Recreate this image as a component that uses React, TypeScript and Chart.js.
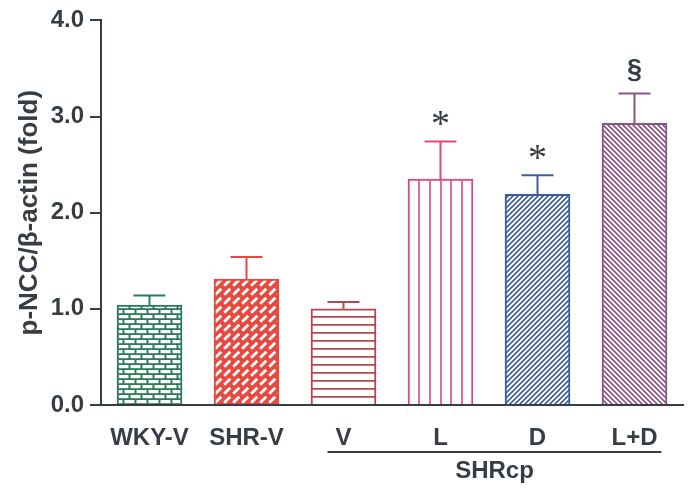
import { useEffect, useRef } from "react";
import { Chart, registerables } from "chart.js";

Chart.register(...registerables);

// Group labels, means and SEM (fold change of p-NCC/β-actin)
const groups = ["WKY-V", "SHR-V", "V", "L", "D", "L+D"];
const means = [1.04, 1.31, 1.0, 2.35, 2.19, 2.93];
const sems = [0.1, 0.23, 0.07, 0.39, 0.2, 0.31];
const signif = ["", "", "", "*", "*", "§"];
const yTicks = [0, 1, 2, 3, 4];
const yTitle = "p-NCC/β-actin (fold)";
const subgroupLabel = "SHRcp";
const subgroupFirst = 2;
const subgroupLast = 5;

const barColors = ["#2d7a5b", "#e5493f", "#b3474e", "#e2467f", "#3e5b9b", "#8b5483"];
const textColor = "#373d45";
const FONT = "'Liberation Sans', Arial, sans-serif";
const BAR_W = 65;

type Painter = (g: CanvasRenderingContext2D, w: number, h: number, c: string) => void;

function diag(g: CanvasRenderingContext2D, s: number, rising: boolean) {
  g.beginPath();
  if (rising) {
    g.moveTo(0, s); g.lineTo(s, 0);
    g.moveTo(-s / 2, s / 2); g.lineTo(s / 2, -s / 2);
    g.moveTo(s / 2, s * 1.5); g.lineTo(s * 1.5, s / 2);
  } else {
    g.moveTo(0, 0); g.lineTo(s, s);
    g.moveTo(-s / 2, s / 2); g.lineTo(s / 2, s * 1.5);
    g.moveTo(s / 2, -s / 2); g.lineTo(s * 1.5, s / 2);
  }
  g.stroke();
}

// Fill patterns, one per bar
const fills: Array<{ w: number; h: number; paint: Painter }> = [
  {
    // bricks
    w: 24, h: 10,
    paint: (g, w, h, c) => {
      g.fillStyle = c; g.fillRect(0, 0, w, h);
      g.fillStyle = "#ffffff";
      g.fillRect(1.5, 1, 10, 3.2); g.fillRect(13.5, 1, 10, 3.2);
      g.fillRect(7.5, 6, 10, 3.2); g.fillRect(19.5, 6, 4.5, 3.2); g.fillRect(0, 6, 5.5, 3.2);
    },
  },
  {
    // slanted dashes
    w: 9, h: 9,
    paint: (g, w, h, c) => {
      g.fillStyle = c; g.fillRect(0, 0, w, h);
      g.strokeStyle = "#ffffff"; g.lineWidth = 2.8;
      g.beginPath(); g.moveTo(1.2, 7.8); g.lineTo(7.3, 1.7); g.stroke();
    },
  },
  {
    // horizontal rules
    w: 8, h: 8,
    paint: (g, w, h, c) => {
      g.fillStyle = "#ffffff"; g.fillRect(0, 0, w, h);
      g.fillStyle = c; g.fillRect(0, 0, w, 1.7);
    },
  },
  {
    // vertical rules
    w: BAR_W, h: 4,
    paint: (g, w, h, c) => {
      g.fillStyle = "#ffffff"; g.fillRect(0, 0, w, h);
      g.fillStyle = c;
      for (let k = 1; k < 6; k++) g.fillRect(Math.round((k * w) / 6) - 0.8, 0, 1.6, h);
    },
  },
  {
    // rising diagonals
    w: 5, h: 5,
    paint: (g, w, h, c) => {
      g.fillStyle = "#ffffff"; g.fillRect(0, 0, w, h);
      g.strokeStyle = c; g.lineWidth = 1.6; diag(g, w, true);
    },
  },
  {
    // falling diagonals
    w: 5, h: 5,
    paint: (g, w, h, c) => {
      g.fillStyle = "#ffffff"; g.fillRect(0, 0, w, h);
      g.strokeStyle = c; g.lineWidth = 1.6; diag(g, w, false);
    },
  },
];

function makePattern(ctx: CanvasRenderingContext2D, i: number): CanvasPattern {
  const f = fills[i];
  const tile = document.createElement("canvas");
  tile.width = f.w; tile.height = f.h;
  const g = tile.getContext("2d")!;
  f.paint(g, f.w, f.h, barColors[i]);
  return ctx.createPattern(tile, "repeat")!;
}

export default function App() {
  const ref = useRef<HTMLCanvasElement | null>(null);

  useEffect(() => {
    const canvas = ref.current!;
    const ctx = canvas.getContext("2d")!;
    const patterns = groups.map((_, i) => makePattern(ctx, i));

    // Anchor each fill pattern at its own bar's lower-left corner
    const anchorPatterns = {
      id: "anchorPatterns",
      beforeDatasetsDraw(chart: any) {
        const meta = chart.getDatasetMeta(0);
        meta.data.forEach((bar: any, i: number) => {
          const { x, width, base } = bar.getProps(["x", "width", "base"], true);
          patterns[i].setTransform(new DOMMatrix().translate(Math.round(x - width / 2), Math.round(base)));
        });
      },
    };

    const errorBars = {
      id: "errorBars",
      afterDatasetsDraw(chart: any) {
        const c = chart.ctx;
        const y = chart.scales.y;
        const meta = chart.getDatasetMeta(0);
        c.save();
        meta.data.forEach((bar: any, i: number) => {
          const { x, y: top } = bar.getProps(["x", "y"], true);
          const capY = y.getPixelForValue(means[i] + sems[i]);
          c.strokeStyle = barColors[i];
          c.lineWidth = 2;
          c.beginPath();
          c.moveTo(x, top); c.lineTo(x, capY);
          c.moveTo(x - 16, capY); c.lineTo(x + 16, capY);
          c.stroke();
          const mark = signif[i];
          if (mark) {
            const isStar = mark === "*";
            c.font = isStar ? "normal 38px 'Liberation Serif', serif" : `bold 27px ${FONT}`;
            c.fillStyle = textColor;
            c.textAlign = "center";
            c.textBaseline = "alphabetic";
            const m = c.measureText(mark);
            const mid = (m.actualBoundingBoxAscent - m.actualBoundingBoxDescent) / 2;
            c.fillText(mark, x, capY - (isStar ? 23 : 23) + mid);
          }
        });
        c.restore();
      },
    };

    const subgroup = {
      id: "subgroup",
      afterDraw(chart: any) {
        const c = chart.ctx;
        const xs = chart.scales.x;
        const bottom = chart.chartArea.bottom;
        const x0 = xs.getPixelForValue(subgroupFirst) - 16;
        const x1 = xs.getPixelForValue(subgroupLast) + 27;
        c.save();
        c.strokeStyle = textColor;
        c.lineWidth = 2;
        c.beginPath();
        c.moveTo(x0, bottom + 47); c.lineTo(x1, bottom + 47);
        c.stroke();
        c.fillStyle = textColor;
        c.font = `bold 24px ${FONT}`;
        c.textAlign = "center";
        c.textBaseline = "middle";
        c.fillText(subgroupLabel, (x0 + x1) / 2, bottom + 66);
        c.restore();
      },
    };

    const chart = new Chart(canvas, {
      type: "bar",
      data: {
        labels: groups,
        datasets: [
          {
            data: means,
            backgroundColor: patterns,
            borderColor: barColors,
            borderWidth: 2,
            borderSkipped: "start",
            barThickness: BAR_W,
          },
        ],
      },
      options: {
        responsive: false,
        animation: false,
        layout: { padding: { top: 20, right: 7, bottom: 0, left: 0 } },
        plugins: { legend: { display: false }, tooltip: { enabled: false } },
        scales: {
          x: {
            grid: { display: false },
            border: { display: true, color: textColor, width: 2 },
            ticks: {
              color: textColor,
              font: { family: FONT, size: 24, weight: "bold" },
              padding: 11,
              maxRotation: 0,
              autoSkip: false,
            },
            afterFit: (s: any) => { s.height = 88; },
          },
          y: {
            min: 0,
            max: 4,
            afterBuildTicks: (s: any) => { s.ticks = yTicks.map((v) => ({ value: v })); },
            grid: {
              display: true,
              drawOnChartArea: false,
              drawTicks: true,
              tickLength: 11,
              color: textColor,
              lineWidth: 2,
            },
            border: { display: true, color: textColor, width: 2 },
            ticks: {
              color: textColor,
              font: { family: FONT, size: 24, weight: "bold" },
              padding: 6,
              callback: (v: any) => Number(v).toFixed(1),
            },
            title: {
              display: true,
              text: yTitle,
              color: textColor,
              font: { family: FONT, size: 26, weight: "bold" },
              padding: { top: 14, bottom: 0 },
            },
            afterFit: (s: any) => { s.width = 101; },
          },
        },
      },
      plugins: [anchorPatterns, errorBars, subgroup],
    } as any);

    return () => chart.destroy();
  }, []);

  return (
    <div style={{ position: "absolute", left: 0, top: 0, width: 690, height: 493, background: "#ffffff" }}>
      <canvas ref={ref} width={690} height={493} />
    </div>
  );
}
